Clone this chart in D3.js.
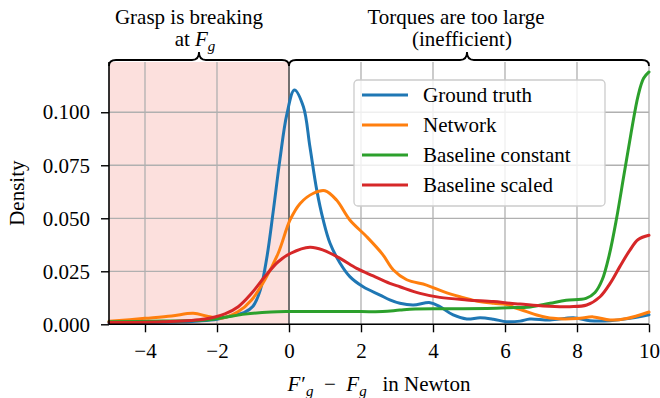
<!DOCTYPE html>
<html>
<head>
<meta charset="utf-8">
<script src="https://cdn.jsdelivr.net/npm/d3@7"></script>
<style>
  body { margin: 0; background: #fff; }
  svg { display: block; }
</style>
</head>
<body>
<svg id="chart" width="660" height="398"></svg>
<script>
// values
const seriesNames = ["Ground truth", "Network", "Baseline constant", "Baseline scaled"];
const seriesColors = ["#1f77b4", "#ff7f0e", "#2ca02c", "#d62728"];

const truthX = [-5, -4, -3, -2.5, -2, -1.6, -1.25, -1.0, -0.8, -0.62, -0.44, -0.25, -0.06, 0.15, 0.4, 0.58, 0.77, 0.95, 1.14, 1.42, 1.69, 2.06, 2.53, 2.8, 3.08, 3.45, 3.92, 4.19, 4.56, 4.94, 5.31, 5.68, 6.05, 6.42, 6.69, 7.25, 7.9, 8.36, 8.92, 9.47, 10];
const truthY = [0.0005, 0.0008, 0.0012, 0.0016, 0.0024, 0.004, 0.0055, 0.0085, 0.016, 0.031, 0.053, 0.078, 0.099, 0.1105, 0.1026, 0.0838, 0.0634, 0.0492, 0.0382, 0.0288, 0.0225, 0.0177, 0.0138, 0.0115, 0.0099, 0.0091, 0.0102, 0.0083, 0.0044, 0.0025, 0.0031, 0.0024, 0.0012, 0.0015, 0.0025, 0.002, 0.0031, 0.0017, 0.0017, 0.0028, 0.0045];

const netX = [-5, -4, -3.26, -2.66, -2.24, -1.87, -1.41, -1.04, -0.67, -0.3, 0.03, 0.31, 0.68, 1.0, 1.32, 1.69, 2.16, 2.6, 2.9, 3.27, 3.82, 4.29, 4.75, 5.21, 5.68, 6.05, 6.32, 6.6, 6.88, 7.34, 8.0, 8.45, 8.92, 9.38, 10];
const netY = [0.0014, 0.0028, 0.0039, 0.0052, 0.0037, 0.0029, 0.006, 0.0115, 0.021, 0.0335, 0.0492, 0.057, 0.0618, 0.063, 0.0586, 0.0492, 0.0413, 0.033, 0.0256, 0.021, 0.0185, 0.0154, 0.013, 0.011, 0.0099, 0.0093, 0.0075, 0.006, 0.0044, 0.0028, 0.0027, 0.0035, 0.002, 0.0027, 0.0058];

const constX = [-5, -3.5, -2.33, -1.78, -1.22, -0.5, 0, 1, 2, 2.6, 3.08, 3.5, 4.5, 5.5, 6.1, 6.7, 7.25, 7.7, 8.25, 8.5, 8.7, 8.9, 9.1, 9.3, 9.5, 9.7, 9.85, 10];
const constY = [0.0012, 0.0015, 0.002, 0.0033, 0.0048, 0.0058, 0.006, 0.006, 0.006, 0.006, 0.0067, 0.0072, 0.0073, 0.0075, 0.0078, 0.0082, 0.0099, 0.0113, 0.0122, 0.015, 0.021, 0.033, 0.05, 0.07, 0.09, 0.108, 0.116, 0.119];

const scaledX = [-5, -3.5, -2.33, -1.78, -1.41, -1.04, -0.67, -0.3, 0.05, 0.58, 0.95, 1.42, 1.88, 2.34, 2.8, 3.08, 3.64, 4.19, 4.94, 5.68, 6.14, 6.42, 7.06, 7.8, 8.27, 8.64, 8.92, 9.19, 9.47, 9.7, 10];
const scaledY = [0.0008, 0.0012, 0.0025, 0.0049, 0.0083, 0.0146, 0.0225, 0.0295, 0.0335, 0.0363, 0.035, 0.0311, 0.0264, 0.0228, 0.0193, 0.0177, 0.0146, 0.0127, 0.0115, 0.0107, 0.0099, 0.0096, 0.0086, 0.0083, 0.0091, 0.013, 0.0193, 0.0272, 0.035, 0.04, 0.042];

const xTicks = [-4, -2, 0, 2, 4, 6, 8, 10];
const yTicks = [0, 0.025, 0.05, 0.075, 0.1];
const xDomain = [-5, 10];
const yDomain = [0, 0.1237];

const width = 660, height = 398;
const margin = {top: 62, right: 11, bottom: 73.7, left: 109};
const fontSize = 21, subSize = 15;
const serif = "'Liberation Serif', 'Times New Roman', serif";

const svg = d3.select("#chart");

const x = d3.scaleLinear().domain(xDomain).range([margin.left, width - margin.right]);
const y = d3.scaleLinear().domain(yDomain).range([height - margin.bottom, margin.top]);

// shaded "grasp is breaking" region
svg.append("rect")
  .attr("x", x(-5))
  .attr("y", margin.top)
  .attr("width", x(0) - x(-5))
  .attr("height", y(0) - margin.top)
  .attr("fill", "#fce0dd");

// grid
svg.append("g")
  .selectAll("line")
  .data(xTicks)
  .join("line")
    .attr("x1", d => x(d)).attr("x2", d => x(d))
    .attr("y1", y(0)).attr("y2", margin.top)
    .attr("stroke", "#b0b0b0").attr("stroke-width", 1.3);

svg.append("g")
  .selectAll("line")
  .data(yTicks)
  .join("line")
    .attr("x1", x(-5)).attr("x2", x(10))
    .attr("y1", d => y(d)).attr("y2", d => y(d))
    .attr("stroke", "#b0b0b0").attr("stroke-width", 1.3);

// vertical marker at 0
svg.append("line")
  .attr("x1", x(0)).attr("x2", x(0))
  .attr("y1", y(0)).attr("y2", margin.top)
  .attr("stroke", "#555").attr("stroke-width", 1.5);

// curves
const allX = [truthX, netX, constX, scaledX];
const allY = [truthY, netY, constY, scaledY];

const line = d3.line()
  .curve(d3.curveCatmullRom.alpha(0.5))
  .x(d => x(d[0]))
  .y(d => y(d[1]));

seriesNames.forEach((name, i) => {
  const pts = allX[i].map((v, j) => [v, allY[i][j]]);
  svg.append("path")
    .datum(pts)
    .attr("d", line)
    .attr("fill", "none")
    .attr("stroke", seriesColors[i])
    .attr("stroke-width", 3)
    .attr("stroke-linejoin", "round")
    .attr("stroke-linecap", "round");
});

// axes
const xAxis = svg.append("g")
  .attr("transform", "translate(0," + y(0) + ")")
  .call(d3.axisBottom(x).tickValues(xTicks).tickSize(8).tickPadding(11).tickFormat(d3.format("d")));

const yAxis = svg.append("g")
  .attr("transform", "translate(" + x(-5) + ",0)")
  .call(d3.axisLeft(y).tickValues(yTicks).tickSize(8).tickPadding(11).tickFormat(d3.format(".3f")));

[xAxis, yAxis].forEach(g => {
  g.attr("font-family", null).attr("font-size", null);
  g.select(".domain").attr("stroke", "#000").attr("stroke-width", 1.6);
  g.selectAll(".tick line").attr("stroke", "#000").attr("stroke-width", 1.4);
  g.selectAll(".tick text")
    .style("font-family", serif)
    .style("font-size", fontSize + "px")
    .attr("fill", "#000");
});
xAxis.select(".domain").attr("d", "M" + x(-5) + ",0H" + x(10));
yAxis.select(".domain").attr("d", "M0," + y(0) + "V" + margin.top);

function label(xPos, yPos, anchor) {
  return svg.append("text")
    .attr("x", xPos).attr("y", yPos)
    .attr("text-anchor", anchor || "middle")
    .attr("fill", "#000")
    .style("font-family", serif)
    .style("font-size", fontSize + "px");
}

// y label
label(0, 0)
  .attr("transform", "translate(17," + ((margin.top + y(0)) / 2) + ") rotate(-90)")
  .attr("dy", "0.35em")
  .text("Density");

// x label: F'_g - F_g in Newton
const xl = label((x(-5) + x(10)) / 2, 391).style("white-space", "pre");
xl.append("tspan").style("font-style", "italic").text("F");
xl.append("tspan").attr("dx", 1).text("′");
xl.append("tspan").style("font-size", subSize + "px").style("font-style", "italic").attr("dy", 5).text("g");
xl.append("tspan").attr("dy", -5).text("  −  ");
xl.append("tspan").style("font-style", "italic").text("F");
xl.append("tspan").style("font-size", subSize + "px").style("font-style", "italic").attr("dy", 5).text("g");
xl.append("tspan").attr("dy", -5).text("   in Newton");

// braces above plot
function brace(x1, x2, xm) {
  const yEnd = 66, yLine = 60, yTip = 52, r = 7;
  return "M" + x1 + "," + yEnd +
    "Q" + x1 + "," + yLine + " " + (x1 + r) + "," + yLine +
    "L" + (xm - r) + "," + yLine +
    "Q" + xm + "," + yLine + " " + xm + "," + yTip +
    "Q" + xm + "," + yLine + " " + (xm + r) + "," + yLine +
    "L" + (x2 - r) + "," + yLine +
    "Q" + x2 + "," + yLine + " " + x2 + "," + yEnd;
}

svg.append("path")
  .attr("d", brace(x(-5), x(0), 199))
  .attr("fill", "none").attr("stroke", "#000").attr("stroke-width", 1.8);
svg.append("path")
  .attr("d", brace(x(0), x(10), 467))
  .attr("fill", "none").attr("stroke", "#000").attr("stroke-width", 1.8);

label(189, 24).text("Grasp is breaking");
const at = label(195, 46);
at.append("tspan").text("at ");
at.append("tspan").style("font-style", "italic").text("F");
at.append("tspan").style("font-size", subSize + "px").style("font-style", "italic").attr("dy", 5).text("g");

label(456, 24).text("Torques are too large");
label(462, 46).text("(inefficient)");

// legend
const legend = svg.append("g").attr("transform", "translate(354,80)");
legend.append("rect")
  .attr("width", 251).attr("height", 126)
  .attr("rx", 4)
  .attr("fill", "#fff").attr("fill-opacity", 0.8)
  .attr("stroke", "#cccccc").attr("stroke-width", 1.3);

const items = legend.selectAll("g.item")
  .data(seriesNames)
  .join("g")
    .attr("class", "item")
    .attr("transform", (d, i) => "translate(0," + (15 + i * 30) + ")");
items.append("line")
  .attr("x1", 8).attr("x2", 54)
  .attr("stroke", (d, i) => seriesColors[i])
  .attr("stroke-width", 3);
items.append("text")
  .attr("x", 69).attr("dy", "0.33em")
  .attr("fill", "#000")
  .style("font-family", serif)
  .style("font-size", fontSize + "px")
  .text(d => d);
</script>
</body>
</html>
